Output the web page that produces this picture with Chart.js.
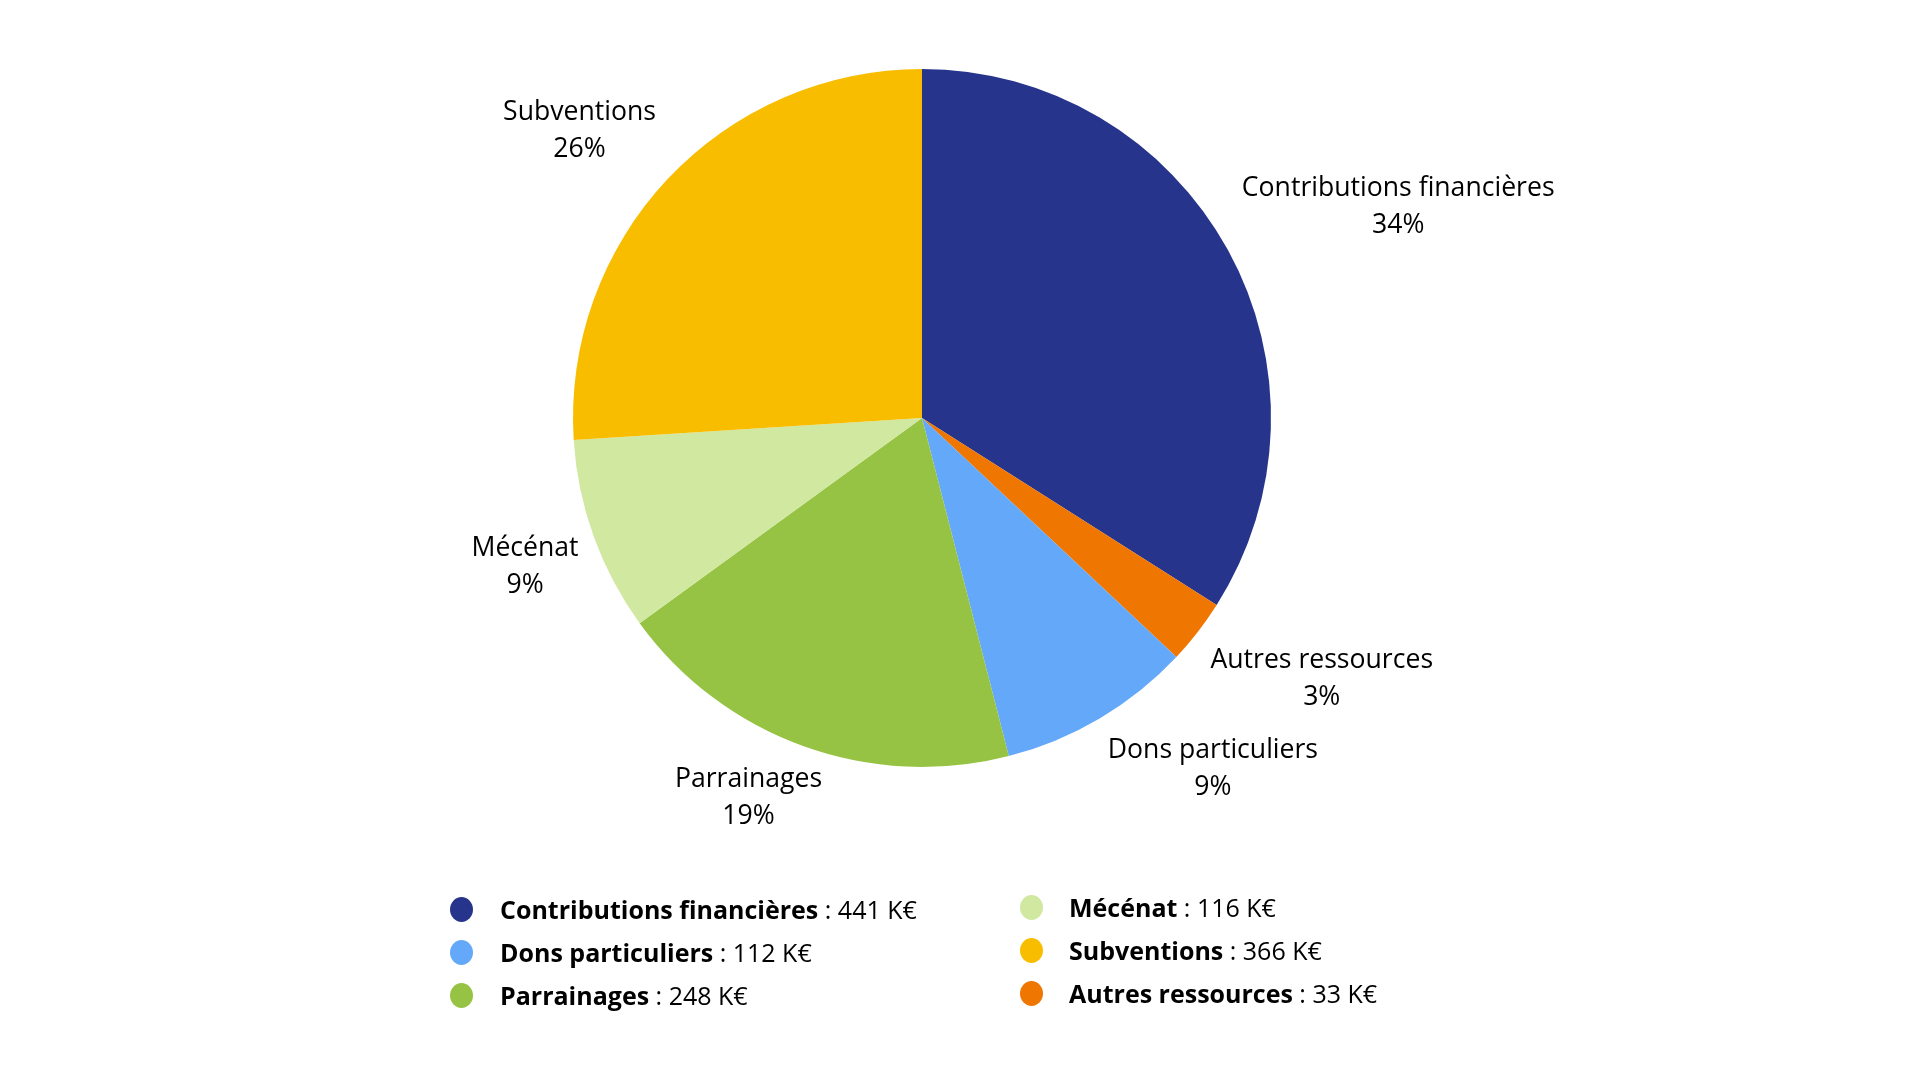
<!DOCTYPE html>
<html lang="fr">
<head>
<meta charset="utf-8">
<title>Ressources</title>
<script src="https://cdn.jsdelivr.net/npm/chart.js@4/dist/chart.umd.min.js"></script>
<style>
  html, body { margin: 0; padding: 0; background: #fff; }
  #wrap { position: relative; width: 1920px; height: 1080px; font-family: "Open Sans", sans-serif; }
  #legend .item { position: absolute; font-size: 25px; color: #000; white-space: nowrap; line-height: 1; }
  #legend .dot { position: absolute; width: 23px; height: 25px; border-radius: 50%; }
</style>
</head>
<body>
<div id="wrap">
  <canvas id="pieChart" width="1920" height="1080"></canvas>
  <div id="legend"></div>
</div>
<script>
// données
const categories = ['Contributions financières', 'Autres ressources', 'Dons particuliers', 'Parrainages', 'Mécénat', 'Subventions'];
const pourcentages = [34, 3, 9, 19, 9, 26];
const montantsKE = [441, 33, 112, 248, 116, 366];
const couleurs = ['#26348B', '#EE7601', '#64A8F9', '#97C344', '#D0E8A0', '#F9BD00'];
const ordreLegende = ['Contributions financières', 'Dons particuliers', 'Parrainages', 'Mécénat', 'Subventions', 'Autres ressources'];

const FONT = '"Open Sans", sans-serif';

// étiquettes à l'extérieur du camembert
const outsideLabels = {
    id: 'outsideLabels',
    afterDatasetsDraw(chart) {
        const ctx = chart.ctx;
        const meta = chart.getDatasetMeta(0);
        const lineH = 37;
        ctx.save();
        ctx.font = '26.6px ' + FONT;
        ctx.fillStyle = '#000';
        ctx.textAlign = 'center';
        ctx.textBaseline = 'middle';
        meta.data.forEach((arc, i) => {
            const p = arc.getProps(['x', 'y', 'startAngle', 'endAngle', 'outerRadius'], true);
            const mid = (p.startAngle + p.endAngle) / 2;
            const ux = Math.cos(mid), uy = Math.sin(mid);
            const r = p.outerRadius + 16;
            const lines = [categories[i], pourcentages[i] + '%'];
            const w = Math.max(...lines.map(t => ctx.measureText(t).width));
            const h = lineH * 2;
            const fx = Math.max(-1, Math.min(1, ux * 2));
            const fy = Math.max(-1, Math.min(1, uy * 2));
            const cx = p.x + r * ux + fx * w / 2;
            const cy = p.y + r * uy + fy * h / 2;
            ctx.fillText(lines[0], cx, cy - lineH / 2);
            ctx.fillText(lines[1], cx, cy + lineH / 2);
        });
        ctx.restore();
    }
};

new Chart(document.getElementById('pieChart'), {
    type: 'pie',
    data: {
        labels: categories,
        datasets: [{
            data: pourcentages,
            backgroundColor: couleurs,
            borderWidth: 0
        }]
    },
    options: {
        responsive: false,
        animation: false,
        layout: { padding: { top: 69, bottom: 313, left: 573, right: 649 } },
        plugins: {
            legend: { display: false },
            tooltip: { enabled: false }
        }
    },
    plugins: [outsideLabels]
});

// légende HTML (deux colonnes)
const legend = document.getElementById('legend');
ordreLegende.forEach((nom, k) => {
    const i = categories.indexOf(nom);
    const col = Math.floor(k / 3), row = k % 3;
    const dotX = col === 0 ? 450 : 1020;
    const textX = col === 0 ? 500 : 1069;
    const topY = (col === 0 ? 897 : 895) + row * 43;
    const dot = document.createElement('div');
    dot.className = 'dot';
    dot.style.left = dotX + 'px';
    dot.style.top = topY + 'px';
    dot.style.background = couleurs[i];
    legend.appendChild(dot);
    const item = document.createElement('div');
    item.className = 'item';
    item.style.left = textX + 'px';
    item.style.top = topY + 'px';
    item.innerHTML = '<b>' + nom + '</b> : ' + montantsKE[i] + ' K€';
    legend.appendChild(item);
});
</script>
</body>
</html>
